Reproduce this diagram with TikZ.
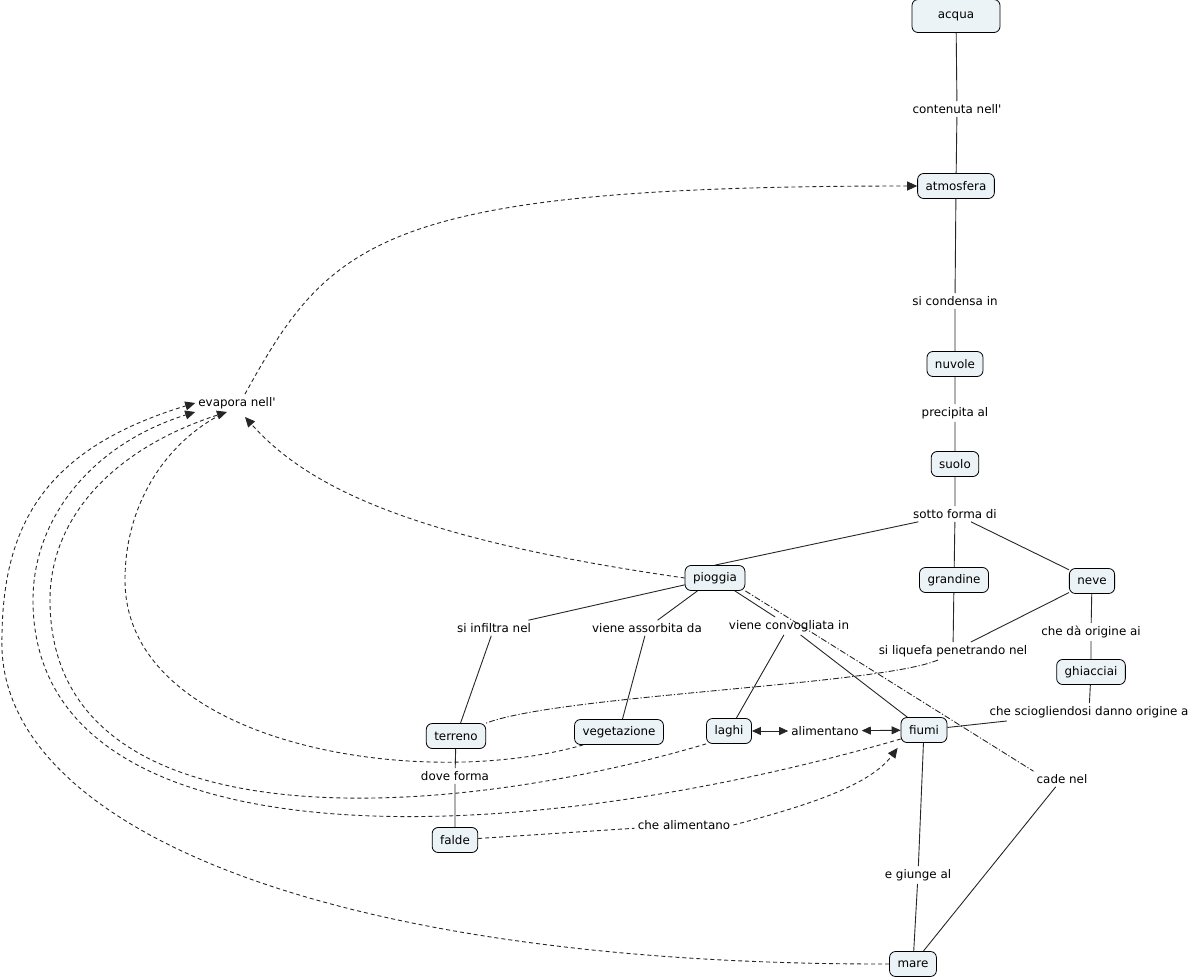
\documentclass[tikz,border=0pt]{standalone}
\usepackage{fontspec}
\setmainfont{DejaVu Sans}
\usetikzlibrary{arrows.meta}

\definecolor{cbox}{RGB}{236,243,246}

\tikzset{
  concept/.style={draw=black, fill=cbox, line width=0.8pt, rounded corners=6pt,
    minimum height=25pt, inner xsep=8pt, font=\fontsize{11.9}{13}\selectfont},
  phrase/.style={inner sep=3pt, font=\fontsize{11.9}{13}\selectfont},
  conn/.style={line width=0.9pt, draw=black!85},
  dashconn/.style={conn, dash pattern=on 4pt off 3pt},
  dotconn/.style={conn, dash pattern=on 6pt off 2pt on 1.2pt off 2pt},
  arrowhd/.style={-{Triangle[length=10pt,width=9pt]}},
  twohd/.style={{Triangle[length=9pt,width=8pt]}-{Triangle[length=9pt,width=8pt]}}
}

\begin{document}
\begin{tikzpicture}[x=1pt, y=-1pt]
\useasboundingbox (0,0) rectangle (1192,979);

% concetti e frasi di legame
\node[concept, minimum width=88pt, minimum height=33pt] (acqua) at (956,16) {acqua};
\node[phrase] (lcont) at (957,109) {contenuta nell\textquotesingle};
\node[concept] (atmosfera) at (956,186) {atmosfera};
\node[phrase] (lcond) at (955,301) {si condensa in};
\node[concept] (nuvole) at (955,364) {nuvole};
\node[phrase] (lprec) at (955,413) {precipita al};
\node[concept] (suolo) at (955,464) {suolo};
\node[phrase] (lforma) at (955,514) {sotto forma di};
\node[concept] (pioggia) at (715,578) {pioggia};
\node[concept] (grandine) at (954,580) {grandine};
\node[concept] (neve) at (1092,581) {neve};
\node[phrase] (linf) at (494,628) {si infiltra nel};
\node[phrase] (lass) at (647,628) {viene assorbita da};
\node[phrase] (lconv) at (789,626) {viene convogliata in};
\node[phrase] (lliq) at (953,651) {si liquefa penetrando nel};
\node[phrase] (lorig) at (1091,632) {che dà origine ai};
\node[concept] (ghiacciai) at (1091,672) {ghiacciai};
\node[phrase] (lsciogl) at (1089,712) {che sciogliendosi danno origine a};
\node[concept] (terreno) at (456,736) {terreno};
\node[concept] (vegetazione) at (619,732) {vegetazione};
\node[concept] (laghi) at (729,731) {laghi};
\node[phrase] (lalim) at (825,731) {alimentano};
\node[concept] (fiumi) at (924,730) {fiumi};
\node[phrase] (ldove) at (455,776) {dove forma};
\node[concept] (falde) at (455,840) {falde};
\node[phrase] (lfalde) at (684,825) {che alimentano};
\node[phrase] (lcade) at (1062,779) {cade nel};
\node[phrase] (lgiunge) at (918,875) {e giunge al};
\node[concept] (mare) at (913,964) {mare};
\node[phrase] (levap) at (237,403) {evapora nell\textquotesingle};

% legami pieni
\draw[conn] (acqua) -- (lcont) -- (atmosfera) -- (lcond) -- (nuvole) -- (lprec) -- (suolo) -- (lforma);
\draw[conn] (lforma) -- (pioggia.north);
\draw[conn] (lforma) -- (grandine);
\draw[conn] (lforma) -- (neve);
\draw[conn] (pioggia) -- (linf) -- (terreno);
\draw[conn] (pioggia) -- (lass) -- (vegetazione);
\draw[conn] (pioggia) -- (lconv) -- (laghi);
\draw[conn] (lconv) -- (fiumi);
\draw[conn] (grandine) -- (lliq);
\draw[conn] (neve) -- (lliq);
\draw[conn] (neve) -- (lorig) -- (ghiacciai) -- (lsciogl) -- (fiumi);
\draw[conn] (terreno) -- (ldove) -- (falde);
\draw[conn] (fiumi) -- (lgiunge) -- (mare);
\draw[conn] (lcade) -- (mare);
\draw[conn, twohd] (laghi) -- (lalim);
\draw[conn, twohd] (lalim) -- (fiumi);

% tratto-punto
\draw[dotconn] ([xshift=-15pt]lliq.south) .. controls (880,685) and (560,695) .. (terreno.north east);
\draw[dotconn] (pioggia.south east) -- (lcade.north west);

% falde
\draw[dashconn] (falde) -- (lfalde);
\draw[dashconn, arrowhd] (lfalde.east) .. controls (810,805) and (870,785) .. ([xshift=-3pt,yshift=-5pt]fiumi.south west);

% evaporazione
\draw[dashconn, arrowhd] (mare.west) .. controls (330,965) and (10,830) .. (2,650)
  .. controls (0,530) and (40,450) .. (levap.west);
\draw[dashconn, arrowhd] ([yshift=-9pt]fiumi.west) .. controls (500,855) and (33,865) .. (33,600)
  .. controls (33,520) and (90,445) .. (levap.south west);
\draw[dashconn, arrowhd] (laghi.south west) .. controls (450,820) and (50,850) .. (50,600)
  .. controls (50,520) and (110,450) .. ([xshift=-10pt]levap.south);
\draw[dashconn] ([xshift=9pt]vegetazione.south west) .. controls (420,792) and (125,745) .. (125,580)
  .. controls (125,500) and (170,440) .. ([xshift=-15pt,yshift=-2pt]levap.south);
\draw[dashconn, arrowhd] (pioggia.west) .. controls (420,540) and (310,490) .. ([xshift=8pt,yshift=-5pt]levap.south);
\draw[dashconn, arrowhd] ([xshift=8pt]levap.north) .. controls (330,240) and (380,186) .. (atmosfera.west);

\end{tikzpicture}
\end{document}
